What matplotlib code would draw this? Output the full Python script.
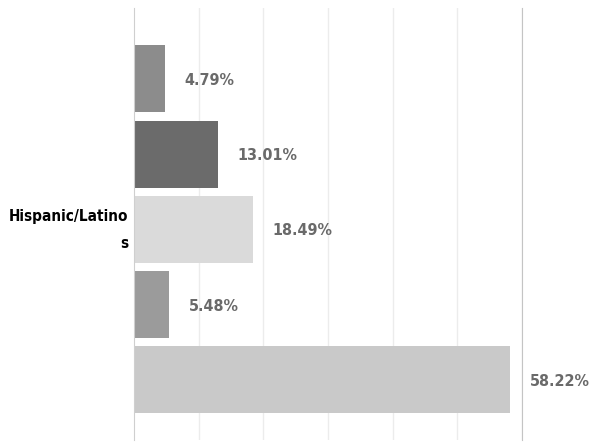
import matplotlib
matplotlib.use("Agg")
import matplotlib.pyplot as plt

plt.rcParams["font.family"] = ["DejaVu Sans"]
plt.rcParams["font.stretch"] = "condensed"

# one category, five series stacked top to bottom
category = "Hispanic/Latino\ns"
values = [4.79, 13.01, 18.49, 5.48, 58.22]
labels = ["4.79%", "13.01%", "18.49%", "5.48%", "58.22%"]
colors = ["#8c8c8c", "#6b6b6b", "#dadada", "#9b9b9b", "#c9c9c9"]

fig = plt.figure(figsize=(5.95, 4.45), dpi=100)
ax = fig.add_axes([0.225, 0.011, 0.652, 0.971])

positions = list(range(len(values)))
ax.barh(positions, values, height=0.89, color=colors, edgecolor="none", zorder=2)

# value labels to the right of each bar
for pos, val, lab in zip(positions, values, labels):
    ax.text(val + 3.0, pos + 0.02, lab, va="center", ha="left", fontsize=11.5,
            fontweight="bold", color="#6a6a6a")

ax.set_xlim(0, 60)
ax.set_ylim(4.8, -0.94)
ax.set_xticks([10, 20, 30, 40, 50, 60])
ax.grid(axis="x", color="#ececec", linewidth=1, zorder=0)
ax.tick_params(axis="x", length=0, labelbottom=False)
# category label sits slightly above the middle bar's centre
ax.set_yticks([1.91])
ax.set_yticklabels([category], fontsize=11, fontweight="bold", ha="right",
                   multialignment="right", linespacing=2.0)
ax.tick_params(axis="y", length=0, pad=4)

for side in ["top", "bottom"]:
    ax.spines[side].set_visible(False)
ax.spines["left"].set_color("#cfcfcf")
ax.spines["right"].set_color("#c4c4c4")

fig.savefig("out.png", dpi=100)
